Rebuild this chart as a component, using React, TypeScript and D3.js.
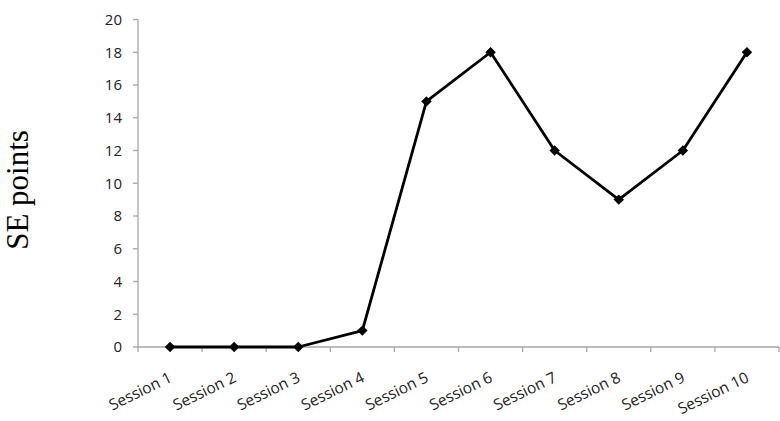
import React from "react";
import * as d3 from "d3";

const categories = ["Session 1", "Session 2", "Session 3", "Session 4", "Session 5", "Session 6", "Session 7", "Session 8", "Session 9", "Session 10"];
const values = [0, 0, 0, 1, 15, 18, 12, 9, 12, 18];
const yTicks = [0, 2, 4, 6, 8, 10, 12, 14, 16, 18, 20];
const yLabel = "SE points";

export default function App() {
  const W = 780, H = 421;
  const left = 138, right = 779, top = 19.5, bottom = 347;
  const x = d3.scaleBand<string>().domain(categories).range([left, right]);
  const y = d3.scaleLinear().domain([0, 20]).range([bottom, top]);
  const line = d3.line<number>()
    .x((_, i) => (x(categories[i]) as number) + x.bandwidth() / 2)
    .y((d) => y(d));
  const axisColor = "#a6a6a6";
  const font = "'Open Sans', Lato, sans-serif";
  const tickEdges = categories.map((c) => x(c) as number).concat([right]);
  return (
    <svg width={W} height={H} style={{ position: "absolute", left: 0, top: 0 }}>
      <rect width={W} height={H} fill="#fff" />
      {/* y axis */}
      <line x1={left} x2={left} y1={top} y2={bottom} stroke={axisColor} strokeWidth={1.3} />
      {yTicks.map((t) => (
        <g key={t}>
          <line x1={left - 5} x2={left} y1={y(t)} y2={y(t)} stroke={axisColor} strokeWidth={1.3} />
          <text x={left - 16} y={y(t)} dy="0.36em" textAnchor="end" fontSize={15} fontFamily={font} fill="#222">{t}</text>
        </g>
      ))}
      {/* x axis */}
      <line x1={left} x2={right} y1={bottom} y2={bottom} stroke={axisColor} strokeWidth={1.3} />
      {tickEdges.map((e, i) => (
        <line key={i} x1={e} x2={e} y1={bottom} y2={bottom + 5} stroke={axisColor} strokeWidth={1.3} />
      ))}
      {categories.map((c) => {
        const cx = (x(c) as number) + x.bandwidth() / 2 + 3;
        const cy = bottom + 34;
        return (
          <text key={c} x={cx} y={cy} textAnchor="end" fontSize={15.5} fontFamily={font} fill="#222"
            transform={`rotate(-26, ${cx}, ${cy})`}>{c}</text>
        );
      })}
      {/* y label */}
      <text x={0} y={0} transform={`translate(28, 190) rotate(-90)`} textAnchor="middle" fontSize={31}
        fontFamily="'Liberation Serif', 'Times New Roman', serif" fill="#000">{yLabel}</text>
      {/* line */}
      <path d={line(values) as string} fill="none" stroke="#000" strokeWidth={2.8} strokeLinejoin="round" />
      {values.map((v, i) => {
        const cx = (x(categories[i]) as number) + x.bandwidth() / 2;
        const cy = y(v);
        return <rect key={i} x={cx - 3.7} y={cy - 3.7} width={7.4} height={7.4} fill="#000" transform={`rotate(45, ${cx}, ${cy})`} />;
      })}
    </svg>
  );
}
